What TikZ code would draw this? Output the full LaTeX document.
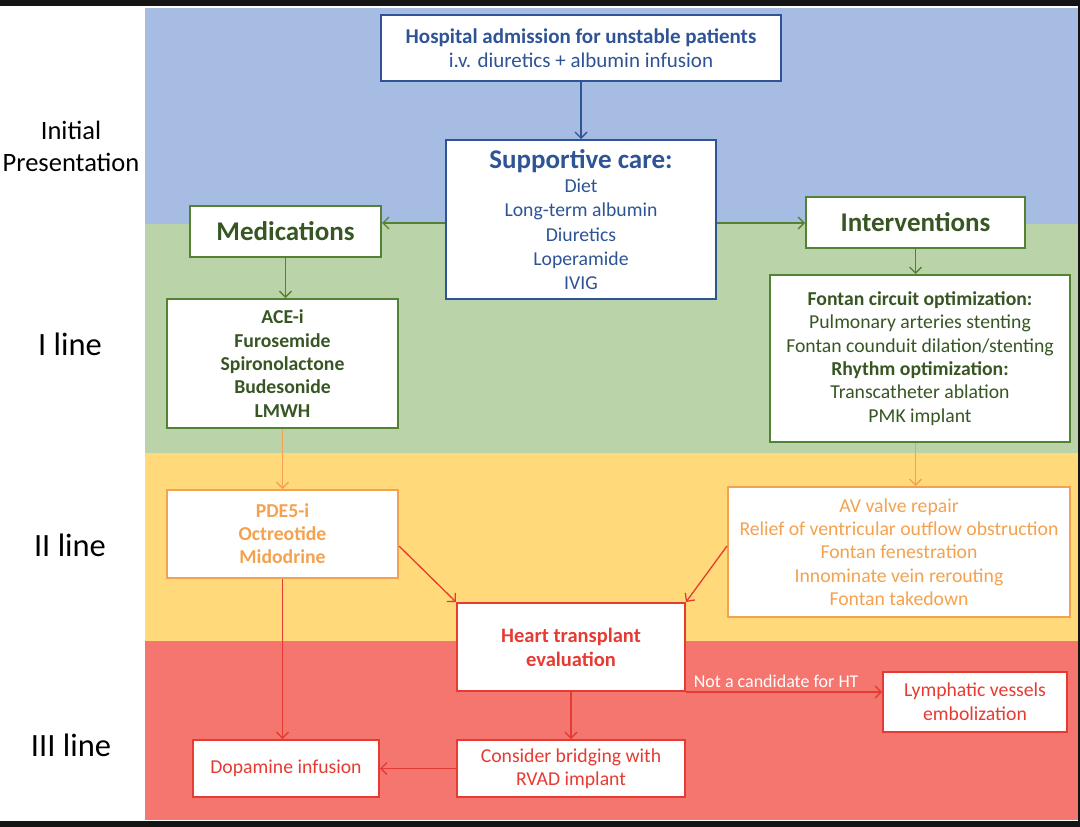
\documentclass[tikz,border=0pt]{standalone}
\usepackage{fontspec}
\setmainfont{Carlito}
\usetikzlibrary{arrows.meta}
\definecolor{bBlue}{HTML}{A7BCE3}
\definecolor{bGreen}{HTML}{BAD3A9}
\definecolor{bYellow}{HTML}{FFD97A}
\definecolor{bRed}{HTML}{F4766F}
\definecolor{cBlue}{HTML}{2E5496}
\definecolor{cGreen}{HTML}{548235}
\definecolor{tGreen}{HTML}{375623}
\definecolor{cOrange}{HTML}{F4A24F}
\definecolor{cRed}{HTML}{E63B32}
\tikzset{
  box/.style={draw, fill=white, line width=2pt, inner sep=0pt, align=center},
  arr/.style={line width=1.3pt, -{Straight Barb[length=6pt,width=12pt,line width=1.3pt]}},
}
\begin{document}
\begin{tikzpicture}[x=1pt,y=-1pt]
\useasboundingbox (0,0) rectangle (1080,827);
\fill[white] (0,0) rectangle (1080,827);
% bands
\fill[bBlue] (145,8) rectangle (1078,224);
\fill[bGreen] (145,224) rectangle (1078,453);
\fill[bYellow] (145,453) rectangle (1078,641);
\fill[bRed] (145,641) rectangle (1078,820);
% black frame strips
\fill[black!92] (0,0) rectangle (1080,6);
\fill[black!92] (0,821) rectangle (1080,827);
\fill[black!92] (1078,0) rectangle (1080,827);
% row labels
\node[align=center, font=\fontsize{26.5}{32}\selectfont] (lInit) at (71,146) {Initial\\Presentation};
\node[font=\fontsize{32.5}{33}\selectfont] (lI) at (70,344) {I line};
\node[font=\fontsize{32.5}{33}\selectfont] (lII) at (70,545) {II line};
\node[font=\fontsize{32.5}{33}\selectfont] (lIII) at (71,745) {III line};
% boxes
\node[box, draw=cBlue, text=cBlue, minimum width=400pt, minimum height=66pt,
      font=\fontsize{21}{24}\selectfont] (hosp) at (581,48)
  {\textbf{Hospital admission for unstable patients}\\i.v. diuretics + albumin infusion};
\node[box, draw=cBlue, text=cBlue, minimum width=270pt, minimum height=159pt,
      font=\fontsize{19.7}{24.3}\selectfont] (supp) at (581,219.5)
  {{\fontsize{27}{24.3}\selectfont\textbf{Supportive care:}}\\Diet\\Long-term albumin\\Diuretics\\Loperamide\\IVIG};
\node[box, draw=cGreen, text=tGreen, minimum width=191pt, minimum height=51pt,
      font=\fontsize{27}{27}\selectfont\bfseries] (med) at (285.5,231.5) {Medications};
\node[box, draw=cGreen, text=tGreen, minimum width=219pt, minimum height=51pt,
      font=\fontsize{27}{27}\selectfont\bfseries] (intv) at (915.5,222) {Interventions};
\node[box, draw=cGreen, text=tGreen, minimum width=231pt, minimum height=129pt,
      font=\fontsize{19.7}{23.3}\selectfont\bfseries] (ace) at (282.5,363.5)
  {ACE-i\\Furosemide\\Spironolactone\\Budesonide\\LMWH};
\node[box, draw=cGreen, text=tGreen, minimum width=300pt, minimum height=167pt,
      font=\fontsize{19.7}{23.4}\selectfont] (fontan) at (920,358.5)
  {\textbf{Fontan circuit optimization:}\\Pulmonary arteries stenting\\Fontan counduit dilation/stenting\\\textbf{Rhythm optimization:}\\Transcatheter ablation\\PMK implant};
\node[box, draw=cOrange, text=cOrange, minimum width=231pt, minimum height=88pt,
      font=\fontsize{19.7}{23}\selectfont\bfseries] (pde) at (282.5,534)
  {PDE5-i\\Octreotide\\Midodrine};
\node[box, draw=cOrange, text=cOrange, minimum width=342pt, minimum height=130pt,
      font=\fontsize{19.7}{23.3}\selectfont] (av) at (899,552)
  {AV valve repair\\Relief of ventricular outflow obstruction\\Fontan fenestration\\Innominate vein rerouting\\Fontan takedown};
\node[box, draw=cRed, text=cRed, minimum width=228pt, minimum height=88pt,
      font=\fontsize{20.5}{24}\selectfont\bfseries] (heart) at (571,647)
  {Heart transplant\\evaluation};
\node[box, draw=cRed, text=cRed, minimum width=184pt, minimum height=60pt,
      font=\fontsize{19.7}{24}\selectfont] (lymph) at (975,702)
  {Lymphatic vessels\\embolization};
\node[box, draw=cRed, text=cRed, minimum width=228pt, minimum height=57pt,
      font=\fontsize{19.7}{23}\selectfont] (cons) at (571,768.5)
  {Consider bridging with\\RVAD implant};
\node[box, draw=cRed, text=cRed, minimum width=186pt, minimum height=57pt,
      font=\fontsize{19.7}{23}\selectfont] (dop) at (286,768.5)
  {Dopamine infusion};
% connectors
\coordinate (lvl) at (0,223);
\coordinate (lvlA) at (0,546);
\draw[arr, cBlue] (hosp.south) -- (supp.north);
\draw[arr, cGreen] (supp.west |- lvl) -- (med.east |- lvl);
\draw[arr, cGreen] (supp.east |- lvl) -- (intv.west |- lvl);
\draw[arr, cGreen] (med.south) -- (med.south |- ace.north);
\draw[arr, cGreen] (intv.south) -- (intv.south |- fontan.north);
\draw[arr, cOrange] (ace.south) -- (pde.north);
\draw[arr, cOrange] (fontan.south -| intv.south) -- (intv.south |- av.north);
\draw[arr, cRed] (pde.east |- lvlA) -- (heart.north west);
\draw[arr, cRed] (av.west |- lvlA) -- (heart.north east);
\draw[arr, cRed] (heart.south east) -- node[above=0pt, pos=0.46, text=white, font=\fontsize{18}{18}\selectfont] (nc) {Not a candidate for HT} (heart.south east -| lymph.west);
\draw[arr, cRed] (heart.south) -- (cons.north);
\draw[arr, cRed] (cons.west) -- (dop.east);
\draw[arr, cRed] (pde.south) -- (pde.south |- dop.north);
\end{tikzpicture}
\end{document}
